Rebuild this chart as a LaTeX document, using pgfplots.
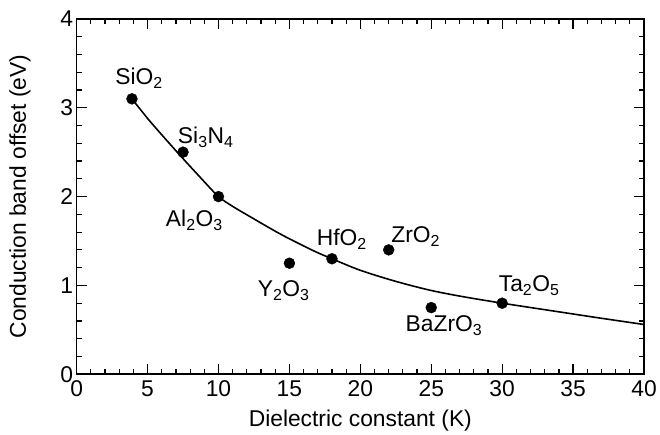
\documentclass[border=0pt]{standalone}
\usepackage{fontspec}
\setmainfont{Liberation Sans}
\usepackage{pgfplots}
\pgfplotsset{compat=1.18}
\begin{document}
\begin{tikzpicture}
\begin{axis}[
  width=570bp, height=357bp, scale only axis,
  xmin=0, xmax=40, ymin=0, ymax=4,
  xtick={0,5,...,40}, ytick={0,1,2,3,4},
  minor x tick num=4, minor y tick num=4,
  tick align=inside, tick pos=both,
  major tick length=10bp, minor tick length=5bp,
  every tick/.style={line width=1.2bp, black},
  axis line style={line width=1.6bp},
  font=\fontsize{23}{28}\selectfont,
  tick label style={font=\fontsize{23}{28}\selectfont},
  label style={font=\fontsize{23}{28}\selectfont},
  xticklabel style={yshift=-3bp},
  /pgf/number format/assume math mode=true,
  xlabel={Dielectric constant (K)},
  ylabel={Conduction band offset (eV)},
  xlabel style={at={(axis description cs:0.5,-0.1317)}, anchor=center},
  ylabel style={at={(axis description cs:-0.1,0.5)}, anchor=center},
  clip=false,
]
\path (rel axis cs:-0.1351,-0.1653) rectangle (rel axis cs:1.0228,1.0532);
\addplot[smooth, line width=1.6bp, black] coordinates {
 (3.9,3.1) (5,2.88) (5.7,2.75) (7.2,2.48) (8.75,2.21) (10,2.0) (11,1.89)
 (12,1.795) (14.4,1.575) (16.7,1.39) (18,1.30) (20,1.17) (22.4,1.05)
 (24.8,0.95) (27,0.88) (30,0.80) (33.9,0.705) (37,0.63) (40,0.56)
};
\addplot[only marks, mark=*, mark size=5.5bp, black] coordinates {
 (3.9,3.1) (7.5,2.5) (10,2.0) (15,1.25) (18,1.3) (22,1.4) (25,0.75) (30,0.8)
};
\node at (axis cs:4.4,3.33) {SiO\textsubscript{2}};
\node at (axis cs:9.1,2.67) {Si\textsubscript{3}N\textsubscript{4}};
\node at (axis cs:8.3,1.73) {Al\textsubscript{2}O\textsubscript{3}};
\node at (axis cs:14.6,0.94) {Y\textsubscript{2}O\textsubscript{3}};
\node at (axis cs:18.7,1.52) {HfO\textsubscript{2}};
\node at (axis cs:23.9,1.55) {ZrO\textsubscript{2}};
\node at (axis cs:25.9,0.55) {BaZrO\textsubscript{3}};
\node at (axis cs:31.9,1.0) {Ta\textsubscript{2}O\textsubscript{5}};
\end{axis}
\end{tikzpicture}
\end{document}
